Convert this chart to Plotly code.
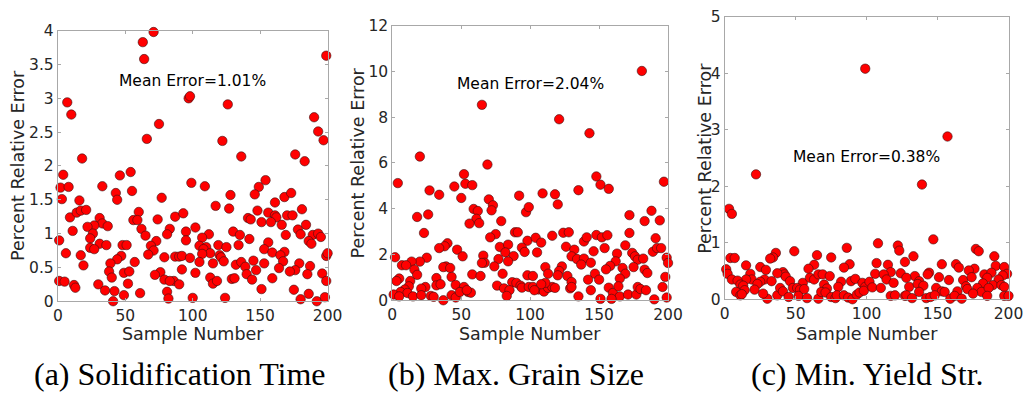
import plotly.graph_objects as go

# ---------------- data ----------------
a_x = [71, 63, 64, 7, 10, 97, 98, 75, 66, 18, 4, 54, 46, 2, 8, 33, 55, 43, 99, 3,
       16, 44, 77, 9, 14, 17, 21, 60, 56, 59, 31, 33, 27, 22, 37, 74, 87, 93, 62, 83,
       11, 26, 65, 81, 95, 24, 1, 95, 73, 31, 36, 24, 27, 48, 51, 69, 71, 67, 6, 17,
       47, 44, 79, 87, 90, 92, 98, 39, 57, 19, 38, 49, 53, 92, 76, 72, 102, 40, 79, 86,
       1, 5, 12, 13, 30, 52, 83, 90, 35, 42, 49, 61, 81, 82, 41, 100,
       199, 126, 190, 193, 197, 122, 136, 176, 183, 109, 154, 149, 146, 128, 168, 173, 117, 127, 161, 181,
       141, 143, 148, 156, 161, 162, 170, 174, 151, 158, 166, 102, 130, 135, 178, 184, 169, 180, 189, 193,
       195, 186, 188, 112, 107, 105, 110, 108, 119, 125, 134, 142, 156, 153, 159, 168, 165, 167, 113, 107,
       120, 121, 123, 115, 105, 132, 136, 139, 145, 153, 164, 179, 176, 172, 187, 199, 200, 140, 147, 185,
       196, 199, 113, 115, 118, 129, 131, 144, 159, 151, 175, 186, 180, 192, 198, 124]
a_y = [3.98, 3.83, 3.58, 2.94, 2.76, 3.00, 3.03, 2.62, 2.40, 2.11, 1.87, 1.91, 1.86, 1.68, 1.69, 1.70, 1.63, 1.60, 1.75, 1.51,
       1.49, 1.50, 1.53, 1.24, 1.31, 1.34, 1.35, 1.32, 1.20, 1.20, 1.23, 1.15, 1.12, 1.10, 1.11, 1.21, 1.25, 1.30, 1.07, 1.07,
       1.04, 1.00, 0.97, 0.99, 1.03, 0.93, 0.90, 0.90, 0.89, 0.85, 0.83, 0.79, 0.77, 0.83, 0.83, 0.82, 0.75, 0.69, 0.71, 0.68,
       0.67, 0.62, 0.65, 0.66, 0.66, 0.67, 0.64, 0.56, 0.58, 0.53, 0.44, 0.42, 0.44, 0.47, 0.43, 0.39, 0.42, 0.35, 0.32, 0.30,
       0.30, 0.29, 0.24, 0.20, 0.25, 0.26, 0.30, 0.25, 0.16, 0.15, 0.09, 0.12, 0.14, 0.04, 0.00, 0.05,
       3.63, 2.91, 2.72, 2.51, 2.38, 2.37, 2.14, 2.17, 2.07, 1.70, 1.79, 1.69, 1.58, 1.57, 1.54, 1.60, 1.41, 1.37, 1.46, 1.36,
       1.23, 1.21, 1.34, 1.31, 1.27, 1.24, 1.27, 1.27, 1.17, 1.17, 1.13, 1.09, 1.03, 0.98, 1.06, 1.13, 0.98, 0.99, 0.98, 1.00,
       0.95, 0.89, 0.85, 0.99, 0.94, 0.82, 0.80, 0.77, 0.83, 0.80, 0.83, 0.92, 0.87, 0.77, 0.72, 0.73, 0.68, 0.59, 0.71, 0.70,
       0.68, 0.65, 0.59, 0.56, 0.58, 0.54, 0.58, 0.51, 0.60, 0.56, 0.49, 0.56, 0.46, 0.44, 0.52, 0.67, 0.71, 0.40, 0.46, 0.40,
       0.41, 0.30, 0.35, 0.26, 0.30, 0.33, 0.34, 0.32, 0.34, 0.18, 0.17, 0.11, 0.03, 0.00, 0.06, 0.05]

b_x = [65, 20, 4, 69, 52, 53, 58, 45, 50, 27, 34, 70, 73, 72, 92, 97, 99, 59, 62, 61,
       56, 63, 79, 18, 26, 23, 89, 91, 75, 71, 98, 40, 38, 34, 78, 84, 82, 47, 94, 96,
       2, 25, 51, 66, 88, 77, 67, 65, 84, 20, 14, 7, 10, 39, 37, 16, 42, 74, 18, 43,
       58, 64, 80, 98, 5, 3, 32, 13, 76, 87, 90, 93, 94, 32, 35, 46, 52, 24, 21, 81,
       85, 12, 9, 6, 11, 1, 5, 15, 21, 28, 30, 37, 43, 46, 49, 55, 57, 54, 83, 99,
       181, 121, 143, 148, 151, 157, 197, 135, 109, 118, 120, 172, 188, 183, 194, 116, 124, 128, 148, 152,
       156, 172, 191, 104, 108, 105, 126, 139, 141, 132, 130, 134, 139, 137, 146, 154, 144, 163, 162, 158,
       155, 169, 174, 176, 178, 182, 189, 192, 195, 199, 200, 123, 121, 111, 113, 102, 120, 127, 147, 167,
       169, 175, 183, 185, 198, 165, 142, 150, 130, 129, 130, 102, 106, 110, 113, 116, 118, 111, 108, 103,
       144, 157, 160, 164, 165, 171, 177, 178, 180, 184, 196, 135, 151, 159, 190, 199]
b_y = [8.54, 6.28, 5.12, 5.93, 5.51, 5.09, 5.03, 4.97, 4.47, 4.80, 4.61, 4.41, 4.15, 3.93, 4.57, 3.85, 4.07, 3.99, 3.90, 3.56,
       3.35, 3.37, 3.46, 3.64, 3.75, 2.94, 2.97, 2.97, 2.89, 2.75, 2.60, 2.49, 2.36, 2.28, 2.33, 2.43, 2.09, 2.21, 2.30, 2.11,
       1.88, 1.86, 1.92, 1.95, 1.93, 1.80, 1.64, 1.63, 1.70, 1.69, 1.69, 1.53, 1.53, 1.48, 1.45, 1.34, 1.41, 1.48, 1.11, 1.02,
       1.13, 1.06, 1.16, 1.09, 0.95, 0.84, 0.97, 0.84, 0.64, 0.79, 0.76, 0.64, 0.55, 0.65, 0.70, 0.67, 0.58, 0.58, 0.51, 0.52,
       0.44, 0.61, 0.47, 0.36, 0.32, 0.25, 0.17, 0.17, 0.22, 0.19, 0.15, 0.00, 0.22, 0.12, 0.36, 0.36, 0.33, 0.44, 0.19, 0.58,
       10.02, 7.91, 7.30, 5.41, 5.05, 4.87, 5.18, 4.81, 4.67, 4.63, 4.19, 3.72, 3.91, 3.46, 3.49, 2.82, 2.95, 2.97, 2.85, 2.75,
       2.84, 2.94, 2.71, 2.73, 2.52, 2.09, 2.34, 2.57, 2.75, 2.21, 1.92, 1.80, 1.82, 1.56, 2.14, 2.28, 1.64, 2.04, 1.70, 1.50,
       1.35, 2.40, 2.07, 1.92, 1.77, 1.82, 2.12, 2.28, 2.28, 1.86, 1.63, 1.48, 1.28, 1.45, 1.16, 1.06, 1.09, 1.06, 1.16, 1.41,
       1.16, 1.45, 1.34, 1.19, 1.02, 0.95, 0.90, 0.90, 0.80, 0.52, 0.58, 0.58, 0.47, 0.38, 0.54, 0.58, 0.54, 0.76, 0.70, 0.44,
       0.44, 0.55, 0.32, 0.61, 0.17, 0.25, 0.25, 0.58, 0.49, 0.44, 0.58, 0.17, 0.06, 0.06, 0.04, 0.12]

c_x = [99, 22, 3, 5, 4, 7, 49, 86, 36, 34, 32, 65, 75, 63, 59, 88, 84, 1, 2, 15,
       25, 29, 41, 42, 37, 43, 18, 19, 15, 5, 9, 11, 28, 25, 23, 33, 46, 55, 60, 63,
       66, 69, 74, 70, 72, 82, 80, 89, 92, 97, 99, 13, 14, 8, 11, 12, 21, 30, 27, 37,
       39, 41, 45, 48, 51, 53, 52, 56, 58, 66, 68, 71, 75, 78, 79, 84, 87, 90, 93, 95, 98,
       157, 139, 147, 108, 122, 123, 133, 127, 177, 179, 190, 107, 115, 153, 163, 165, 191, 197, 176, 172,
       199, 117, 124, 106, 112, 144, 143, 134, 183, 188, 185, 196, 102, 114, 119, 128, 137, 151, 158, 168,
       174, 182, 193, 189, 195, 104, 110, 130, 136, 140, 149, 153, 155, 164, 170, 171, 178, 181, 186, 197,
       117, 120, 127, 128, 132, 137, 142, 145, 148, 159, 162, 167, 175, 185, 197, 200]
c_y = [4.08, 2.21, 1.60, 1.51, 0.73, 0.73, 0.85, 0.91, 0.82, 0.74, 0.72, 0.78, 0.74, 0.61, 0.54, 0.62, 0.56, 0.53, 0.45, 0.60,
       0.57, 0.52, 0.48, 0.44, 0.46, 0.40, 0.45, 0.35, 0.35, 0.35, 0.33, 0.26, 0.35, 0.31, 0.27, 0.32, 0.32, 0.29, 0.38, 0.35,
       0.44, 0.44, 0.41, 0.26, 0.19, 0.31, 0.22, 0.32, 0.36, 0.29, 0.22, 0.24, 0.16, 0.13, 0.07, 0.09, 0.17, 0.01, 0.10, 0.07,
       0.20, 0.14, 0.04, 0.20, 0.20, 0.17, 0.06, 0.18, 0.02, 0.01, 0.13, 0.12, 0.04, 0.02, 0.07, 0.07, 0.03, 0.00, 0.08, 0.12, 0.15,
       2.88, 2.03, 1.06, 0.99, 0.95, 0.86, 0.76, 0.66, 0.89, 0.85, 0.76, 0.64, 0.61, 0.62, 0.62, 0.56, 0.59, 0.57, 0.54, 0.51,
       0.45, 0.48, 0.46, 0.45, 0.44, 0.47, 0.44, 0.41, 0.44, 0.47, 0.38, 0.42, 0.31, 0.35, 0.29, 0.38, 0.32, 0.39, 0.34, 0.34,
       0.39, 0.28, 0.35, 0.25, 0.25, 0.21, 0.20, 0.22, 0.27, 0.24, 0.20, 0.14, 0.13, 0.14, 0.23, 0.18, 0.20, 0.13, 0.20, 0.22,
       0.06, 0.07, 0.06, 0.07, 0.02, 0.13, 0.02, 0.04, 0.07, 0.01, 0.06, 0.01, 0.10, 0.06, 0.06, 0.06]

mean_labels = ["Mean Error=1.01%", "Mean Error=2.04%", "Mean Error=0.38%"]
captions = ["(a) Solidification Time", "(b) Max. Grain Size", "(c) Min. Yield Str."]
x_ticks = [0, 50, 100, 150, 200]
a_ticks = [0, 0.5, 1, 1.5, 2, 2.5, 3, 3.5, 4]
b_ticks = [0, 2, 4, 6, 8, 10, 12]
c_ticks = [0, 1, 2, 3, 4, 5]

# ---------------- figure ----------------
W, H = 1028, 393
SANS = "DejaVu Sans"
TXT = "#262626"
AXC = "#a8a8a8"

# The page is shown slightly shrunk and offset; convert wanted screen pixels
# into figure pixels (measured empirically).
SX, OFFX = 0.985, 4.0
SY, OFFY = 0.9556, 8.7


def fx(px):
    return (px / SX - OFFX) / W


def fy(py):
    return 1 - (py / SY - OFFY) / H


# wanted screen boxes of each panel: (left, right, top, bottom)
boxes = [(57, 328, 30, 301), (393, 670, 25, 300), (727, 1012, 16, 299)]
yranges = [[0, 4], [0, 12], [0, 5]]
yticks = [a_ticks, b_ticks, c_ticks]
series = [(a_x, a_y), (b_x, b_y), (c_x, c_y)]
mean_pos = [3.26, 9.47, 2.51]
ytitle_x = [17, 359, 707]
caption_x = [180, 517, 870]

fig = go.Figure()
layout = dict(width=W, height=H, autosize=False, margin=dict(l=0, r=0, t=0, b=0, pad=0),
              paper_bgcolor="white", plot_bgcolor="white", showlegend=False)
annotations = []

for i, ((xs, ys), (l, r, t, b)) in enumerate(zip(series, boxes)):
    sfx = "" if i == 0 else str(i + 1)
    fig.add_trace(go.Scatter(
        x=xs, y=ys, mode="markers", xaxis="x" + sfx, yaxis="y" + sfx,
        cliponaxis=False,
        marker=dict(size=9.4, color="#ff0000", line=dict(color="#3a1010", width=0.6)),
        hoverinfo="skip"))
    common = dict(showgrid=False, zeroline=False, showline=True, linecolor=AXC,
                  linewidth=1, mirror="ticks", ticks="inside", ticklen=3,
                  tickcolor=AXC, tickfont=dict(family=SANS, size=15.5, color=TXT))
    layout["xaxis" + sfx] = dict(domain=[fx(l), fx(r)], range=[0, 200],
                                 tickvals=x_ticks, anchor="y" + sfx, **common)
    layout["yaxis" + sfx] = dict(domain=[fy(b), fy(t)], range=yranges[i],
                                 tickvals=yticks[i],
                                 ticktext=[("%g" % v) for v in yticks[i]],
                                 anchor="x" + sfx, **common)
    annotations.append(dict(x=100, y=mean_pos[i], xref="x" + sfx, yref="y" + sfx,
                            text=mean_labels[i], showarrow=False,
                            xanchor="center", yanchor="middle",
                            font=dict(family=SANS, size=15.5, color="black")))
    annotations.append(dict(x=fx((l + r) / 2), y=fy(334), xref="paper", yref="paper",
                            text="Sample Number", showarrow=False,
                            xanchor="center", yanchor="middle",
                            font=dict(family=SANS, size=17.5, color=TXT)))
    annotations.append(dict(x=fx(ytitle_x[i]), y=fy((t + b) / 2), xref="paper", yref="paper",
                            text="Percent Relative Error", showarrow=False, textangle=-90,
                            xanchor="center", yanchor="middle",
                            font=dict(family=SANS, size=17.5, color=TXT)))
    annotations.append(dict(x=fx(caption_x[i]), y=fy(374), xref="paper", yref="paper",
                            text=captions[i], showarrow=False,
                            xanchor="center", yanchor="middle",
                            font=dict(family="Liberation Serif", size=32, color="black")))

layout["annotations"] = annotations
fig.update_layout(**layout)
fig.write_html("out.html")
